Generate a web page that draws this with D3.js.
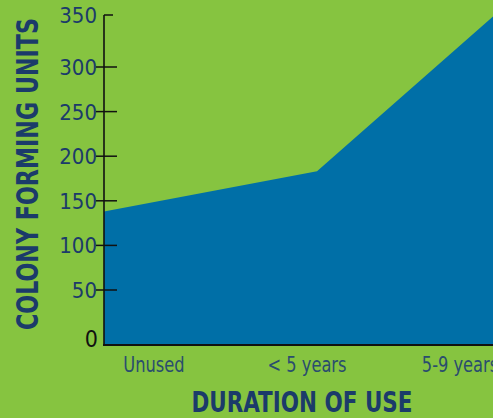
<!DOCTYPE html>
<html>
<head>
<meta charset="utf-8">
<script src="https://cdn.jsdelivr.net/npm/d3@7"></script>
<style>
  html, body { margin: 0; padding: 0; background: #86c440; overflow: hidden; }
  svg { display: block; }
</style>
</head>
<body>
<svg width="493" height="418"></svg>
<script>
const categories = ["Unused", "< 5 years", "5-9 years"];
const cfuValues = [138, 183, 352];
const yTicks = [0, 50, 100, 150, 200, 250, 300, 350];

const svg = d3.select("svg");
const blue = "#006fa7", navy = "#1b3b6a";
const font = "'Liberation Sans Narrow', 'DejaVu Sans Condensed', sans-serif";

// the original axis is hand-drawn, spacing isn't uniform
const y = d3.scaleLinear().domain([0, 50, 300, 350]).range([345, 290, 67, 15]);
const xArea = d3.scaleLinear().domain([0, 1, 2]).range([104, 317, 497]);
const xLabel = d3.scalePoint().domain(categories).range([154, 460]);

const area = d3.area()
    .x((d, i) => xArea(i))
    .y0(y(0))
    .y1(d => y(d));

svg.append("path")
    .datum(cfuValues)
    .attr("d", area)
    .attr("fill", blue);

// ticks
const tickG = svg.append("g");
yTicks.filter(t => t > 0).forEach(t => {
    tickG.append("line")
        .attr("x1", t === 350 ? 104 : 96)
        .attr("x2", t === 350 ? 113 : 117)
        .attr("y1", y(t)).attr("y2", y(t))
        .attr("stroke", "#111")
        .attr("stroke-width", 1.5);
});

svg.append("line")
    .attr("x1", 104).attr("x2", 104)
    .attr("y1", y(350)).attr("y2", y(0) + 1)
    .attr("stroke", "#111").attr("stroke-width", 1.6);

svg.append("line")
    .attr("x1", 103).attr("x2", 493)
    .attr("y1", y(0)).attr("y2", y(0))
    .attr("stroke", "#111").attr("stroke-width", 2);

// tick labels
svg.append("g").selectAll("text")
    .data(yTicks)
    .join("text")
    .attr("x", d => d === 0 ? 98 : 97)
    .attr("y", d => y(d))
    .attr("dy", d => d === 0 ? "0.1em" : "0.36em")
    .attr("text-anchor", "end")
    .attr("fill", d => d === 0 ? "#111" : navy)
    .style("font-family", font)
    .style("font-size", d => d === 0 ? "23px" : "22px")
    .text(d => d);

// category labels, squeezed a little to look like the condensed original
svg.append("g").selectAll("text")
    .data(categories)
    .join("text")
    .attr("x", d => xLabel(d))
    .attr("y", 372)
    .attr("text-anchor", "middle")
    .attr("fill", "#2a4d6e")
    .style("font-family", font)
    .style("font-size", "21px")
    .text(d => d)
    .each(function () {
        const w = this.getComputedTextLength();
        d3.select(this).attr("textLength", w * 0.86).attr("lengthAdjust", "spacingAndGlyphs");
    });

// titles
svg.append("text")
    .attr("transform", "translate(38,174) rotate(-90)")
    .attr("text-anchor", "middle")
    .attr("fill", navy)
    .attr("textLength", 312)
    .attr("lengthAdjust", "spacingAndGlyphs")
    .style("font-family", font)
    .style("font-weight", "bold")
    .style("font-size", "31px")
    .text("COLONY FORMING UNITS");

svg.append("text")
    .attr("x", 302)
    .attr("y", 412)
    .attr("text-anchor", "middle")
    .attr("fill", navy)
    .attr("textLength", 221)
    .attr("lengthAdjust", "spacingAndGlyphs")
    .style("font-family", font)
    .style("font-weight", "bold")
    .style("font-size", "29px")
    .text("DURATION OF USE");
</script>
</body>
</html>
